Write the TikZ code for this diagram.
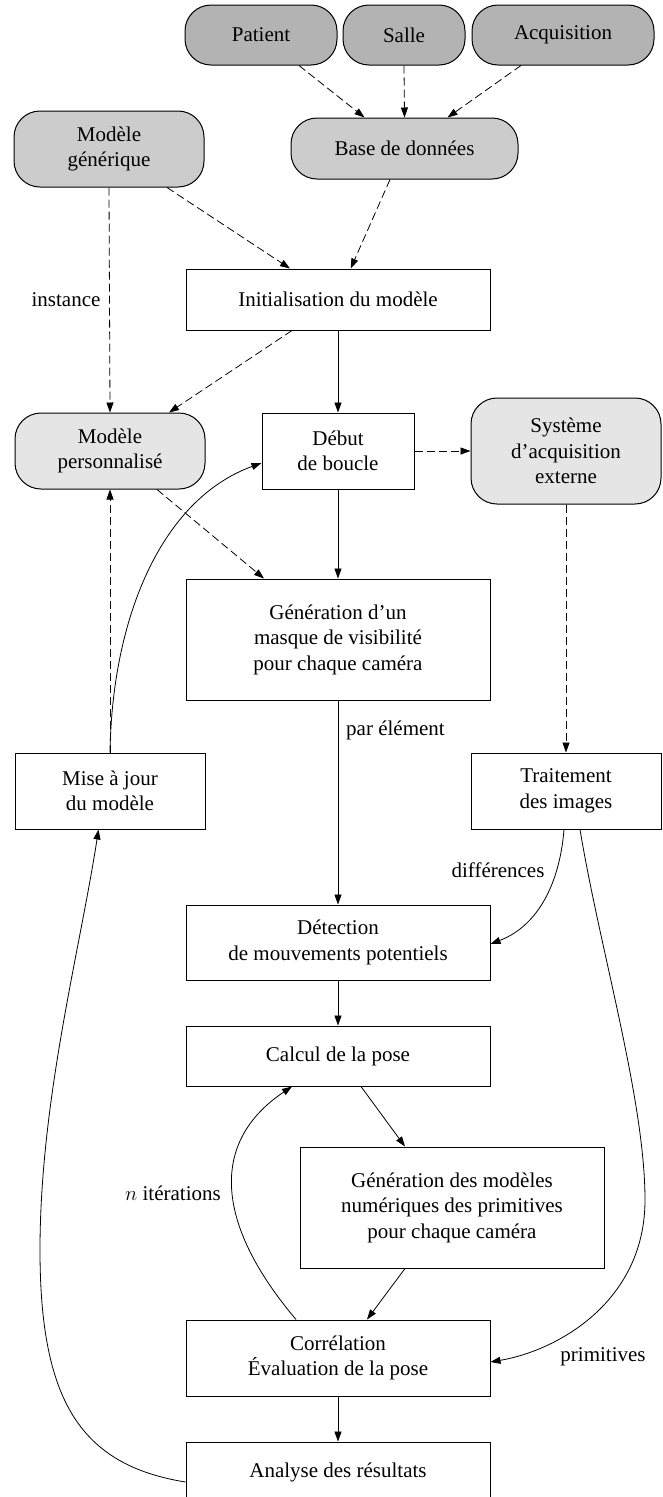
\documentclass[tikz,border=0pt]{standalone}
\usepackage{fontspec}
\setmainfont{Liberation Serif}
\usetikzlibrary{arrows.meta,calc}
\definecolor{gdark}{RGB}{179,179,179}
\definecolor{gmid}{RGB}{204,204,204}
\definecolor{glight}{RGB}{229,229,229}
\begin{document}
\begin{tikzpicture}[x=1pt,y=-1pt,
  every node/.style={font=\fontsize{21}{25.5}\selectfont, align=center, inner sep=0pt},
  box/.style={draw, line width=1pt, minimum width=304pt},
  rbox/.style={draw, line width=1pt, rounded corners=26pt},
  arr/.style={line width=0.8pt, -{Triangle[length=10pt,width=7pt]}},
  dsh/.style={arr, dash pattern=on 8pt off 4pt},
  lbl/.style={font=\fontsize{21}{25.5}\selectfont}]
\useasboundingbox (0,0) rectangle (662,1497);
% top nodes
\node[rbox, fill=gdark, minimum width=152pt, minimum height=60pt] (pat) at (261,35) {Patient};
\node[rbox, fill=gdark, minimum width=122pt, minimum height=60pt] (salle) at (404,35) {Salle};
\node[rbox, fill=gdark, minimum width=182pt, minimum height=60pt] (acq) at (563,35) {Acquisition};
\node[rbox, fill=gmid, minimum width=227pt, minimum height=61pt] (bdd) at (404.5,148.5) {Base de données};
\node[rbox, fill=gmid, minimum width=190pt, minimum height=76pt] (mg) at (109,149) {Modèle\\générique};
\node[box, minimum height=61pt] (init) at (338,299.5) {Initialisation du modèle};
\node[rbox, fill=glight, minimum width=190pt, minimum height=76pt] (mp) at (110,451) {Modèle\\personnalisé};
\node[box, minimum width=152pt, minimum height=76pt] (debut) at (338,451) {Début\\de boucle};
\node[rbox, fill=glight, minimum width=190pt, minimum height=106pt] (sys) at (566,451) {Système\\d’acquisition\\externe};
\node[box, minimum height=121pt] (gen) at (338,639.5) {Génération d’un\\masque de visibilité\\pour chaque caméra};
\node[box, minimum width=190pt, minimum height=76pt] (maj) at (110,791) {Mise à jour\\du modèle};
\node[box, minimum width=190pt, minimum height=76pt] (trait) at (566,791) {Traitement\\des images};
\node[box, minimum height=75pt] (det) at (338,942.5) {Détection\\de mouvements potentiels};
\node[box, minimum height=60pt] (calc) at (338,1056) {Calcul de la pose};
\node[box, minimum height=121pt] (genmod) at (452,1207.5) {Génération des modèles\\numériques des primitives\\pour chaque caméra};
\node[box, minimum height=76pt] (corr) at (338,1358) {Corrélation\\Évaluation de la pose};
\node[box, minimum height=60pt] (ana) at (338,1472) {Analyse des résultats};
% labels
\node[lbl] (linst) at (66,300) {instance};
\node[lbl, anchor=west] (lpar) at (346,730) {par élément};
\node[lbl] (ldiff) at (498,870) {différences};
\node[lbl] (liter) at (173,1193) {$n$ itérations};
\node[lbl] (lprim) at (603,1357) {primitives};
% connectors
\draw[dsh] ([xshift=38pt]pat.south) -- ([xshift=-40pt]bdd.north);
\draw[dsh] (salle.south) -- (bdd.north);
\draw[dsh] ([xshift=-42pt]acq.south) -- ([xshift=43pt]bdd.north);
\draw[dsh] ([xshift=58pt]mg.south) -- ([xshift=-48pt]init.north);
\draw[dsh] ([xshift=-14.5pt]bdd.south) -- ([xshift=12.7pt]init.north);
\draw[dsh] (mg.south) -- (mp.north);
\draw[dsh] ([xshift=-46pt]init.south) -- ([xshift=59pt]mp.north);
\draw[arr] (init.south) -- (debut.north);
\draw[dsh] (debut.east) -- (sys.west);
\draw[arr] (debut.south) -- (gen.north);
\draw[dsh] ([xshift=47pt]mp.south) -- ([xshift=-74pt]gen.north);
\draw[dsh] (sys.south) -- (trait.north);
\draw[arr] (gen.south) -- (det.north);
\draw[dsh] (maj.north) -- (mp.south);
\draw[arr] (maj.north) .. controls (112,620) and (160,500) .. ([yshift=-12pt]debut.west);
\draw[arr] ([xshift=-2pt]trait.south) .. controls (560,880) and (540,925) .. ([yshift=-1.5pt]det.east);
\draw[arr] ([xshift=14pt]trait.south) .. controls (600,950) and (645,1100) .. (645,1200) .. controls (645,1300) and (560,1350) .. ([yshift=-4pt]corr.east);
\draw[arr] (det.south) -- (calc.north);
\draw[arr] ([xshift=23pt]calc.south) -- ([xshift=-47pt]genmod.north);
\draw[arr] ([xshift=-47pt]genmod.south) -- ([xshift=29pt]corr.north);
\draw[arr] ([xshift=-42pt]corr.north) .. controls (212,1220) and (212,1140) .. ([xshift=-46pt]calc.south);
\draw[arr] (corr.south) -- (ana.north);
\draw[arr] ([yshift=-10pt]ana.west) .. controls (80,1465) and (40,1400) .. (40,1250) .. controls (40,1100) and (80,950) .. ([xshift=-11.5pt]maj.south);
\end{tikzpicture}
\end{document}
